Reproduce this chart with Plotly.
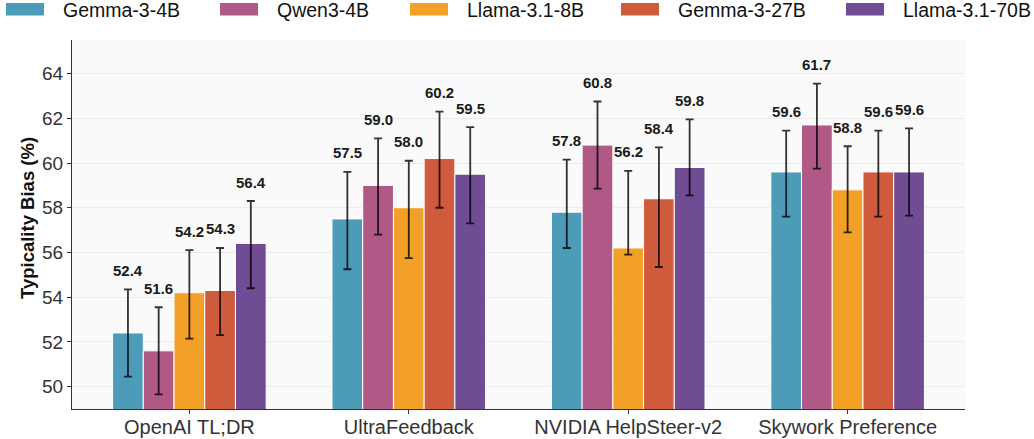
import plotly.graph_objects as go

categories = ["OpenAI TL;DR", "UltraFeedback", "NVIDIA HelpSteer-v2", "Skywork Preference"]
models = ["Gemma-3-4B", "Qwen3-4B", "Llama-3.1-8B", "Gemma-3-27B", "Llama-3.1-70B"]

gemma_4b = [52.4, 57.5, 57.8, 59.6]
qwen3_4b = [51.6, 59.0, 60.8, 61.7]
llama_8b = [54.2, 58.0, 56.2, 58.8]
gemma_27b = [54.3, 60.2, 58.4, 59.6]
llama_70b = [56.4, 59.5, 59.8, 59.6]

# confidence interval bounds
gemma_4b_hi = [54.35, 59.6, 60.15, 61.45]
qwen3_4b_hi = [53.55, 61.1, 62.75, 63.55]
llama_8b_hi = [56.1, 60.1, 59.65, 60.75]
gemma_27b_hi = [56.2, 62.3, 60.7, 61.45]
llama_70b_hi = [58.3, 61.6, 61.95, 61.55]

gemma_4b_lo = [50.45, 55.25, 56.2, 57.6]
qwen3_4b_lo = [49.65, 56.8, 58.85, 59.75]
llama_8b_lo = [52.15, 55.75, 55.9, 56.9]
gemma_27b_lo = [52.3, 58.0, 55.35, 57.6]
llama_70b_lo = [54.4, 57.3, 58.55, 57.65]

y_ticks = [50, 52, 54, 56, 58, 60, 62, 64]

means = [gemma_4b, qwen3_4b, llama_8b, gemma_27b, llama_70b]
his = [gemma_4b_hi, qwen3_4b_hi, llama_8b_hi, gemma_27b_hi, llama_70b_hi]
los = [gemma_4b_lo, qwen3_4b_lo, llama_8b_lo, gemma_27b_lo, llama_70b_lo]
colors = ["#4C9BB9", "#B05886", "#F2A028", "#D05B3C", "#704C94"]

W, H = 1034, 439
L, R, T, B = 72, 69, 40, 30
PW, PH = W - L - R, H - T - B
FONT = "Arial, Liberation Sans, sans-serif"

def px_x(px):
    return (px - L) / PW

def px_y(py):
    return (H - B - py) / PH

fig = go.Figure()
bar_w = 0.14
for i, (name, m, hi, lo, c) in enumerate(zip(models, means, his, los, colors)):
    fig.add_trace(go.Bar(
        name=name, x=categories, y=m,
        marker=dict(color=c, line=dict(color="white", width=1)),
        error_y=dict(type="data", symmetric=False,
                     array=[h - v for h, v in zip(hi, m)],
                     arrayminus=[v - l for v, l in zip(m, lo)],
                     color="rgba(0,0,0,0.8)", thickness=1.8, width=4),
        showlegend=False,
    ))
    for j, (v, h) in enumerate(zip(m, hi)):
        fig.add_annotation(x=j + (i - 2) * bar_w, y=h, text=f"<b>{v:.1f}</b>",
                           showarrow=False, yanchor="middle", yshift=19,
                           font=dict(size=15, color="#1a1a1a", family=FONT))

# manual legend
legend_rect_x = [6, 220, 410, 621, 846]
for name, c, rx in zip(models, colors, legend_rect_x):
    fig.add_shape(type="rect", xref="paper", yref="paper",
                  x0=px_x(rx), x1=px_x(rx + 38), y0=px_y(15.5), y1=px_y(3),
                  fillcolor=c, line=dict(width=0), layer="above")
    fig.add_annotation(xref="paper", yref="paper", x=px_x(rx + 55), y=px_y(10),
                       text=name, showarrow=False, xanchor="left", yanchor="middle",
                       font=dict(size=19.5, color="#111", family=FONT))

fig.add_annotation(xref="paper", yref="paper", x=px_x(28), y=px_y(218),
                   text="<b>Typicality Bias (%)</b>", textangle=-90, showarrow=False,
                   xanchor="center", yanchor="middle",
                   font=dict(size=18.5, color="#111", family=FONT))

fig.update_layout(
    width=W, height=H,
    margin=dict(l=L, r=R, t=T, b=B, pad=0, autoexpand=False),
    barmode="group", bargap=0.3, bargroupgap=0,
    plot_bgcolor="#FAFAFA", paper_bgcolor="white",
    font=dict(family=FONT),
    showlegend=False,
)
fig.update_xaxes(
    range=[-0.535, 3.535], showgrid=False, showline=True, linecolor="#333", linewidth=1.2,
    ticks="outside", ticklen=4, tickcolor="#333", automargin=False,
    ticklabelstandoff=-4,
    tickfont=dict(size=20, color="#333", family=FONT),
)
fig.update_yaxes(
    range=[49, 65.5], tickvals=y_ticks, showgrid=True, gridcolor="#EBEBEB", gridwidth=1,
    showline=True, linecolor="#333", linewidth=1.2, zeroline=False,
    ticks="outside", ticklen=4, tickcolor="#333", automargin=False,
    tickfont=dict(size=19, color="#333", family=FONT),
)

fig.write_html("out.html", config={"displayModeBar": False},
               post_script="document.body.style.margin='0';document.body.style.overflow='hidden';")
